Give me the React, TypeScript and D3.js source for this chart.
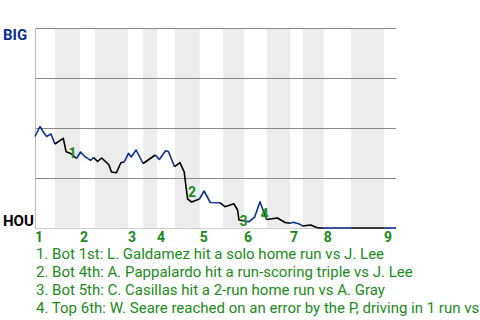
import React from "react";
import * as d3 from "d3";

// half-inning boundaries (play index): top1, bot1, top2, ... top9, end
const halfBounds = [0, 5, 11.2, 15, 23.2, 27, 30.4, 34.9, 41.1, 46.9, 52.1, 57.8, 63.6, 66.8, 72, 78.8, 87, 90];
const inningLabels = ["1", "2", "3", "4", "5", "6", "7", "8", "9"];

// play index of each point and BIG win probability (%) after it
const playX = [0, 1.25, 2.3, 2.9, 4, 4.95, 7.05, 7.75, 8.9, 10.35, 11.35, 12.45, 13.85, 14.6, 15.6, 16.6, 17.8, 18.45, 19.05, 20.3, 21.4, 22.3, 23.3, 24, 25.2, 26.95, 30, 31, 32.55, 33.25, 34.8, 36.15, 37.2, 37.65, 38.05, 39.05, 41, 42.15, 43.7, 46.1, 47.35, 49.6, 50.5, 50.85, 51.95, 53.4, 54.8, 56.1, 57.7, 60.45, 62.35, 63.55, 64.4, 66.05, 66.7, 68.75, 70.05, 70.8, 72, 75, 78.8, 83, 87, 90];
const winProb = [45.75, 50.75, 47.35, 45.75, 47, 42, 44.85, 38.15, 37.25, 34.75, 38, 35.65, 33.85, 35.25, 33.25, 35, 32.85, 31.5, 28, 27.65, 32.65, 33.15, 37.35, 35.5, 39, 32.25, 36.5, 34.25, 38.65, 38.25, 30.65, 32.65, 28, 20.65, 14.5, 13, 14.5, 18.5, 12.75, 12.65, 10.65, 12.1, 9, 4, 3.65, 3.15, 5.6, 13.15, 4.25, 5, 2.75, 2.35, 2.85, 1.85, 1, 1.5, 0.35, 0, 0, 0, 0, 0, 0, 0];

const eventLabels = ["1", "2", "3", "4"];
const eventPoint = [7, 34, 43, 47];
const eventOffsets = [[2.5, 6], [0.5, -2.5], [0.5, 5.5], [0.5, 17.5]];
const eventTexts = [
  "1. Bot 1st: L. Galdamez hit a solo home run vs J. Lee",
  "2. Bot 4th: A. Pappalardo hit a run-scoring triple vs J. Lee",
  "3. Bot 5th: C. Casillas hit a 2-run home run vs A. Gray",
  "4. Top 6th: W. Seare reached on an error by the P, driving in 1 run vs J. Lee",
];
const yTicks = [100, 75, 50, 25];

const BLUE = "#0b2f93";
const GREEN = "#1a8a1a";

export default function App() {
  const W = 480, H = 320;
  const x0 = 35, x1 = 396, yTop = 28, yBot = 228;
  const x = d3.scaleLinear().domain([0, 90]).range([x0, x1]);
  const y = d3.scaleLinear().domain([0, 100]).range([yBot, yTop]);

  const halfOf = (v: number) => {
    let k = 0;
    for (let i = 0; i < halfBounds.length - 1; i++) if (halfBounds[i] < v) k = i;
    return k;
  };

  const segs: { d: string; c: string }[] = [];
  const line = d3.line<number>().x((i) => x(playX[i])).y((i) => y(winProb[i]));
  let cur: number[] = [0];
  let curHalf = halfOf(playX[1]);
  for (let i = 1; i < playX.length; i++) {
    const h = halfOf(playX[i]);
    if (h % 2 !== curHalf % 2) {
      segs.push({ d: line(cur) || "", c: curHalf % 2 === 0 ? BLUE : "#000" });
      cur = [i - 1];
      curHalf = h;
    }
    cur.push(i);
  }
  segs.push({ d: line(cur) || "", c: curHalf % 2 === 0 ? BLUE : "#000" });

  return (
    <svg width={W} height={H} style={{ position: "fixed", left: 0, top: 0, background: "#fff" }}>
      {halfBounds.slice(0, -1).map((b, i) =>
        i % 2 === 1 ? (
          <rect key={"b" + i} x={x(b)} y={yTop} width={x(halfBounds[i + 1]) - x(b)} height={yBot - yTop} fill="#ececec" />
        ) : null
      )}
      {yTicks.map((t) => (
        <line key={"g" + t} x1={x0} x2={x1} y1={y(t)} y2={y(t)} stroke="#888" strokeWidth={1} shapeRendering="crispEdges" />
      ))}
      <line x1={x0} x2={x1} y1={yBot} y2={yBot} stroke="#ccc" strokeWidth={1} shapeRendering="crispEdges" />
      <line x1={x0} x2={x0} y1={yTop} y2={yBot} stroke="#bbb" strokeWidth={1} shapeRendering="crispEdges" />
      {segs.map((s, i) => (
        <path key={"s" + i} d={s.d} fill="none" stroke={s.c} strokeWidth={1.6} strokeLinejoin="round" />
      ))}
      {eventLabels.map((l, i) => (
        <text key={"e" + i} x={x(playX[eventPoint[i]]) + eventOffsets[i][0]} y={y(winProb[eventPoint[i]]) + eventOffsets[i][1]}
          fill={GREEN} fontFamily="Roboto, sans-serif" fontWeight="bold" fontSize={14}>{l}</text>
      ))}
      <text x={3} y={40} fill={BLUE} fontFamily="Roboto, sans-serif" fontWeight="bold" fontSize={15}>BIG</text>
      <text x={3} y={226} fill="#000" fontFamily="Roboto, sans-serif" fontWeight="bold" fontSize={15}>HOU</text>
      {inningLabels.map((l, i) => (
        <text key={"i" + i} x={x(halfBounds[i * 2])} y={242} fill={GREEN} fontFamily="Roboto, sans-serif" fontWeight="bold" fontSize={14}>{l}</text>
      ))}
      {eventTexts.map((t, i) => (
        <text key={"t" + i} x={36} y={259 + i * 18} fill={GREEN} fontFamily="Roboto, sans-serif" fontSize={15}>{t}</text>
      ))}
    </svg>
  );
}
